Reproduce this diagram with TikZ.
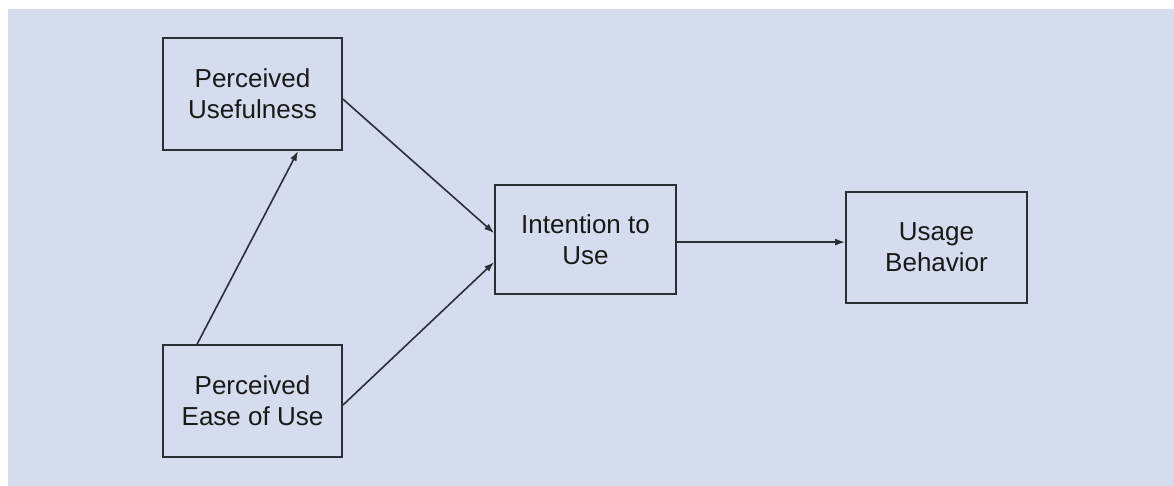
\documentclass[tikz,border=0pt]{standalone}
\usepackage{fontspec}
\setmainfont{Liberation Sans}
\usetikzlibrary{arrows.meta}
\definecolor{panel}{HTML}{D4DCEE}
\definecolor{ink}{HTML}{2A2E37}
\begin{document}
\begin{tikzpicture}[x=1pt,y=1pt,
  construct/.style={draw=ink,line width=1.8pt,minimum width=179pt,minimum height=112pt,
    inner sep=0pt,align=center,font=\fontsize{26}{31}\selectfont,text=black!90},
  link/.style={draw=ink,line width=1.6pt,-{Latex[length=10pt,width=7pt]}}]
  % page and panel
  \useasboundingbox (0,0) rectangle (1174,486);
  \fill[white] (-5,-5) rectangle (1180,492);
  \fill[panel] (8,-5) rectangle (1180,477);

  % constructs
  \node[construct] (pu) at (252.5,392) {Perceived\\Usefulness};
  \node[construct] (peou) at (252.5,85) {Perceived\\Ease of Use};
  \node[construct,minimum width=181pt,minimum height=109pt] (iu) at (585.5,246.5) {Intention to\\Use};
  \node[construct,minimum width=181pt,minimum height=111pt] (ub) at (936.5,238.5) {Usage\\Behavior};

  % relations
  \draw[link] ([xshift=35pt]peou.north west) -- ([xshift=136pt]pu.south west);
  \draw[link] ([yshift=-62pt]pu.north east) -- ([yshift=-49pt]iu.north west);
  \draw[link] ([yshift=-61pt]peou.north east) -- ([yshift=-78pt]iu.north west);
  \draw[link] ([yshift=-58pt]iu.north east) -- ([yshift=-51pt]ub.north west);
\end{tikzpicture}
\end{document}
